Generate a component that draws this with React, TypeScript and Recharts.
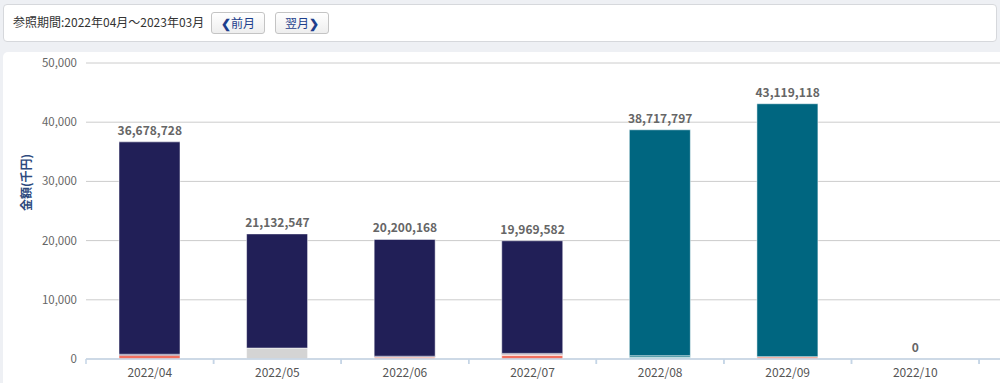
import React from 'react';
import { ComposedChart, Bar, Line, XAxis, YAxis, CartesianGrid, LabelList } from 'recharts';

const months = ['2022/04', '2022/05', '2022/06', '2022/07', '2022/08', '2022/09', '2022/10', '2022/11', '2022/12', '2023/01', '2023/02', '2023/03'];
const totalsYen = [36678728, 21132547, 20200168, 19969582, 38717797, 43119118, 0, 0, 0, 0, 0, 0];
// segments in 千円
const salmon = [650, 0, 0, 600, 0, 0, 0, 0, 0, 0, 0, 0];
const lightSalmon = [0, 0, 350, 200, 0, 400, 0, 0, 0, 0, 0, 0];
const grey = [0, 1850, 0, 0, 0, 0, 0, 0, 0, 0, 0, 0];
const lightTeal = [0, 0, 0, 0, 250, 0, 0, 0, 0, 0, 0, 0];
const midTeal = [0, 0, 0, 0, 300, 0, 0, 0, 0, 0, 0, 0];
const darkNavy = [150, 0, 120, 150, 0, 0, 0, 0, 0, 0, 0, 0];
const navy = [35879, 19283, 19730, 19020, 0, 0, 0, 0, 0, 0, 0, 0];
const teal = [0, 0, 0, 0, 38168, 42719, 0, 0, 0, 0, 0, 0];
const yTicks = [0, 10000, 20000, 30000, 40000, 50000];

const data = months.map((m, i) => ({
  month: m,
  salmon: salmon[i],
  lightSalmon: lightSalmon[i],
  grey: grey[i],
  lightTeal: lightTeal[i],
  midTeal: midTeal[i],
  darkNavy: darkNavy[i],
  navy: navy[i],
  teal: teal[i],
  total: totalsYen[i] / 1000,
  label: totalsYen[i].toLocaleString('en-US'),
}));

const FONT = '"Noto Sans CJK JP", "Noto Sans", sans-serif';
const CHART_W = 1620;
const YAXIS_W = 86;
const MARGIN_R = 3;
const BAND = (CHART_W - YAXIS_W - MARGIN_R) / months.length;
const VIEW_W = 1000;

const XTick = (props: any) => {
  const { x, y, payload } = props;
  const visible = x + 30 < VIEW_W;
  return (
    <g>
      <line x1={x - BAND / 2} x2={x - BAND / 2} y1={y - 8} y2={y - 3} stroke="#c5d5e6" strokeWidth={1.5} />
      <line x1={x + BAND / 2} x2={x + BAND / 2} y1={y - 8} y2={y - 3} stroke="#c5d5e6" strokeWidth={1.5} />
      {visible && (
        <text x={x} y={y + 10} textAnchor="middle" fill="#555" fontSize={12} fontFamily={FONT}>
          {payload.value}
        </text>
      )}
    </g>
  );
};

const TopLabel = (props: any) => {
  const { x, y, index } = props;
  if (x + 30 > VIEW_W) return null;
  return (
    <text x={x} y={y - 7} textAnchor="middle" fill="#666" fontSize={12} fontWeight="bold" fontFamily={FONT}>
      {data[index].label}
    </text>
  );
};

const btn: React.CSSProperties = {
  position: 'absolute',
  top: 12,
  height: 22,
  width: 54,
  boxSizing: 'border-box',
  border: '1px solid #c4c4c4',
  borderRadius: 3,
  background: 'linear-gradient(#ffffff, #eeeeee)',
  color: '#1d3e8c',
  fontSize: 12,
  lineHeight: '20px',
  textAlign: 'center',
  fontFamily: FONT,
};

const seg = { stackId: 'a', stroke: '#fff', strokeWidth: 0.5, isAnimationActive: false } as const;

export default function App() {
  return (
    <div style={{ position: 'absolute', left: 0, top: 0, width: VIEW_W, height: 383, overflow: 'hidden', background: '#eef0f4', fontFamily: FONT }}>
      <div style={{ position: 'absolute', left: 3, top: 4, width: 994, height: 38, boxSizing: 'border-box', background: '#fff', border: '1px solid #d6d8dc', borderRadius: 4 }} />
      <div style={{ position: 'absolute', left: 13, top: 13, fontSize: 12, color: '#333', lineHeight: '18px' }}>参照期間:2022年04月～2023年03月</div>
      <div style={{ ...btn, left: 211 }}><b>❮</b>前月</div>
      <div style={{ ...btn, left: 275 }}>翌月<b>❯</b></div>
      <div style={{ position: 'absolute', left: 3, top: 52, width: 1010, height: 340, background: '#fff', borderRadius: 5 }} />
      <div style={{ position: 'absolute', left: 0, top: 52 }}>
        <ComposedChart width={CHART_W} height={331} data={data} margin={{ top: 11, right: MARGIN_R, bottom: 0, left: 0 }} barSize={61}>
          <CartesianGrid vertical={false} stroke="#cccccc" />
          <XAxis
            dataKey="month"
            height={24}
            axisLine={{ stroke: '#c5d5e6', strokeWidth: 1.5 }}
            tickLine={false}
            tick={<XTick />}
            interval={0}
          />
          <YAxis
            width={YAXIS_W}
            domain={[0, 50000]}
            ticks={yTicks}
            axisLine={false}
            tickLine={false}
            tickMargin={3}
            tickFormatter={(v: number) => v.toLocaleString('en-US')}
            tick={{ fill: '#666', fontSize: 11.5, fontFamily: FONT }}
            label={{ value: '金額(千円)', angle: -90, position: 'insideLeft', offset: 27, fill: '#2e4a7e', fontSize: 12, fontWeight: 'bold', fontFamily: FONT }}
          />
          <Bar dataKey="salmon" fill="#f2705f" {...seg} />
          <Bar dataKey="lightSalmon" fill="#f2a898" {...seg} />
          <Bar dataKey="grey" fill="#d4d4d4" {...seg} />
          <Bar dataKey="lightTeal" fill="#8ed0cc" {...seg} />
          <Bar dataKey="midTeal" fill="#2a8595" {...seg} />
          <Bar dataKey="darkNavy" fill="#0a1250" {...seg} />
          <Bar dataKey="navy" fill="#211f57" {...seg} />
          <Bar dataKey="teal" fill="#006680" {...seg} />
          <Line dataKey="total" stroke="none" dot={false} activeDot={false} legendType="none" isAnimationActive={false}>
            <LabelList dataKey="label" content={<TopLabel />} />
          </Line>
        </ComposedChart>
      </div>
    </div>
  );
}
